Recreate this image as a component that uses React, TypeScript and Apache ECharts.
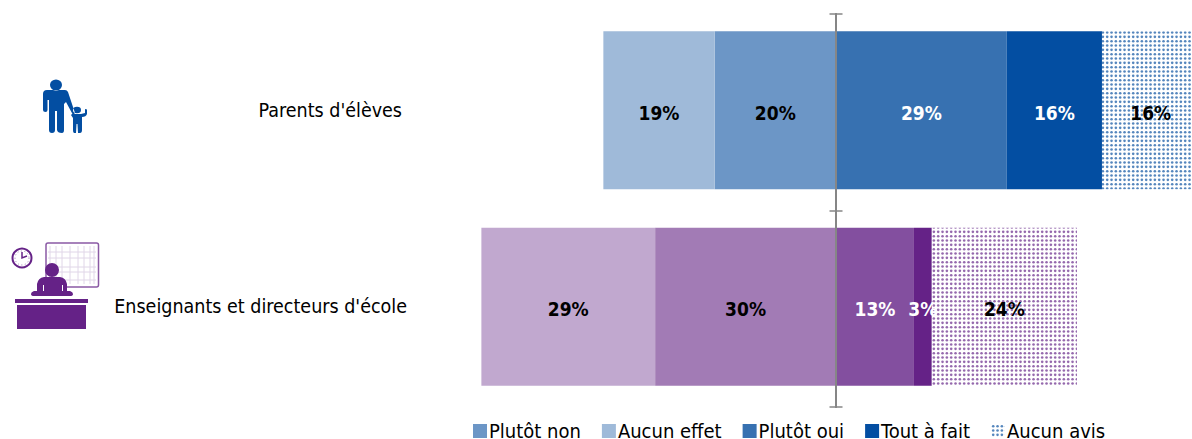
import React, { useEffect, useRef } from "react";
import * as echarts from "echarts";

const categories = ["Parents d'élèves", "Enseignants et directeurs d'école"];
const legendNames = ["Plutôt non", "Aucun effet", "Plutôt oui", "Tout à fait", "Aucun avis"];
const plutotNon = [-20.4, -30.4];
const aucunEffet = [-18.7, -29.2];
const plutotOui = [28.7, 13.1];
const toutAFait = [16, 3];
const aucunAvis = [16.4, 24.4];
const blues = ["#6C96C6", "#9FBAD9", "#3771B1", "#034EA2"];
const purples = ["#A27BB5", "#C1A8CF", "#834F9F", "#652287"];

function dots(color: string) {
  const c = document.createElement("canvas");
  c.width = 13;
  c.height = 13;
  const g = c.getContext("2d")!;
  g.fillStyle = "#fff";
  g.fillRect(0, 0, 13, 13);
  g.fillStyle = color;
  g.globalAlpha = 0.85;
  for (let i = 0; i < 3; i++) {
    for (let j = 0; j < 3; j++) {
      g.beginPath();
      g.arc(2.2 + (13 / 3) * i, 2.2 + (13 / 3) * j, 1.3, 0, Math.PI * 2);
      g.fill();
    }
  }
  return c;
}

const PARENT =
  "M50 85a6 5.5 0 1 0 12 0a6 5.5 0 1 0 -12 0Z M47 90L65 90Q67 90 68 92L75 113L73 115L66 102L64 104L64 130Q64 133 62 133Q57.5 133 57 130L57 111L55 111L55 130Q55 133 52 133Q49 133 49 130L49 100L47.5 100L47.5 110Q47.5 112 45.5 112Q43 112 43 110L43 94Q43 90 47 90Z " +
  "M73 110a4 3.2 0 1 0 8 0a4 3.2 0 1 0 -8 0Z M72 114L81 114L85 113L85 109L87 109.500L87 114Q86 117 82 117L82 130Q82 133 80 133L78 133L77.500 124L76.500 124L76 133L74 133Q73 133 73 130L73 118L71 115Z";
const PERSON =
  "M45 270a7 7 0 1 0 14 0a7 7 0 1 0 -14 0Z M44 277L60 277Q66 278 67 284L67 291L70 291Q73 292 73 294Q73 296 70 296L34 296Q31 296 31 294Q31 292 34 291L37 291L37 284Q38 278 44 277Z";
echarts.graphic.registerShape("parentIcon", echarts.graphic.extendPath(PARENT, {}));
echarts.graphic.registerShape("personIcon", echarts.graphic.extendPath(PERSON, {}));

const PURPLE = "#652287";
const BLUE = "#034EA2";
const GRIDLINE = "#E0D6E8";

const icons = [
  { type: "parentIcon", style: { fill: BLUE } },
  { type: "rect", shape: { x: 46, y: 243, width: 52.5, height: 44, r: 2 }, style: { fill: "#fff", stroke: "#8A5AA5", lineWidth: 1.5 } },
  ...[50, 56, 62, 70, 78, 84, 90, 94].map((x) => ({ type: "line", shape: { x1: x, y1: 246, x2: x, y2: 284 }, style: { stroke: GRIDLINE, lineWidth: 1 } })),
  ...[252, 258, 267, 272, 280].map((y) => ({ type: "line", shape: { x1: 48, y1: y, x2: 96, y2: y }, style: { stroke: GRIDLINE, lineWidth: 1 } })),
  { type: "circle", shape: { cx: 22, cy: 258, r: 9.5 }, style: { fill: "#fff", stroke: PURPLE, lineWidth: 2 } },
  { type: "circle", shape: { cx: 22, cy: 258, r: 7 }, style: { fill: "none", stroke: "#A27BB5", lineWidth: 1, lineDash: [1, 2.5] } },
  { type: "polyline", shape: { points: [[22, 252], [22, 258], [27, 256]] }, style: { fill: "none", stroke: PURPLE, lineWidth: 1.5 } },
  { type: "personIcon", style: { fill: PURPLE } },
  { type: "line", shape: { x1: 43.5, y1: 285, x2: 43.5, y2: 291 }, style: { stroke: "#fff", lineWidth: 1 } },
  { type: "line", shape: { x1: 62.5, y1: 285, x2: 62.5, y2: 291 }, style: { stroke: "#fff", lineWidth: 1 } },
  { type: "rect", shape: { x: 15, y: 299, width: 73, height: 4 }, style: { fill: PURPLE } },
  { type: "rect", shape: { x: 17, y: 305, width: 69, height: 24 }, style: { fill: PURPLE } },
];

export default function App() {
  const ref = useRef<HTMLDivElement>(null);
  useEffect(() => {
    const chart = echarts.init(ref.current!, undefined, { renderer: "svg" });
    const fontFamily = "'DejaVu Sans Condensed', 'Noto Sans', sans-serif";
    const fmt = (p: any) => Math.round(Math.abs(p.value)) + "%";
    const labelBase = { show: true, position: "inside", offset: [0, 2.5], formatter: fmt, fontFamily, fontSize: 19, fontWeight: "bold" };
    const bar = (name: string, values: number[], i: number, labelColor: string) => ({
      name,
      type: "bar",
      stack: "total",
      clip: false,
      xAxisIndex: 0,
      yAxisIndex: 0,
      barCategoryGap: "19.6%",
      itemStyle: { color: blues[i] },
      label: { ...labelBase, color: labelColor },
      data: values.map((v, k) => (k === 1 ? { value: v, itemStyle: { color: purples[i] } } : v)),
    });
    const axisLineStyle = { color: "#868686", width: 2 };
    const tickAxis = (gridIndex: number, inside: boolean) => ({
      type: "category",
      gridIndex,
      position: "left",
      inverse: true,
      z: 5,
      data: categories,
      axisLine: { show: true, onZero: true, lineStyle: axisLineStyle },
      axisTick: { show: true, inside, length: 6.5, lineStyle: { color: "#868686", width: 1.5 } },
      axisLabel: { show: false },
      splitLine: { show: false },
    });
    const xBase = { type: "value", min: -70, max: 59.83, show: false, splitLine: { show: false } };
    chart.setOption({
      animation: false,
      backgroundColor: "#fff",
      textStyle: { fontFamily },
      grid: [
        { left: 419.5, top: 12, right: 0, height: 393, containLabel: false },
        { left: 419.5, top: 14, right: 0, height: 393, containLabel: false },
        { left: 419.5, top: 14, right: 0, height: 393, containLabel: false },
      ],
      xAxis: [{ ...xBase, gridIndex: 0 }, { ...xBase, gridIndex: 1 }, { ...xBase, gridIndex: 2 }],
      yAxis: [
        {
          type: "category",
          gridIndex: 0,
          position: "left",
          inverse: true,
          data: [
            { value: categories[0], textStyle: { padding: [0, 5, 0, 0] } },
            { value: categories[1], textStyle: { padding: [4, 0, 0, 0] } },
          ],
          axisLine: { show: false, onZero: false },
          axisTick: { show: false },
          axisLabel: { margin: 12.5, color: "#000", fontFamily, fontSize: 19.5 },
        },
        tickAxis(1, true),
        tickAxis(2, false),
      ],
      legend: {
        left: 473,
        top: 421,
        itemWidth: 14,
        itemHeight: 14,
        itemGap: 21,
        padding: 0,
        icon: "rect",
        data: legendNames,
        textStyle: { color: "#000", fontFamily, fontSize: 20, lineHeight: 16, padding: [0, 0, 0, -3] },
      },
      series: [
        bar(legendNames[0], plutotNon, 0, "#000"),
        bar(legendNames[1], aucunEffet, 1, "#000"),
        bar(legendNames[2], plutotOui, 2, "#fff"),
        bar(legendNames[3], toutAFait, 3, "#fff"),
        {
          name: legendNames[4],
          type: "bar",
          stack: "total",
          clip: false,
          itemStyle: { color: { image: dots("#3771B1"), repeat: "repeat" } },
          label: { ...labelBase, color: "#000" },
          data: [aucunAvis[0], { value: aucunAvis[1], itemStyle: { color: { image: dots("#834F9F"), repeat: "repeat" } } }],
        },
      ],
      graphic: { elements: icons },
    });
    return () => chart.dispose();
  }, []);
  return <div ref={ref} style={{ position: "absolute", left: 0, top: 0, width: 1192, height: 439, overflow: "hidden" }} />;
}
